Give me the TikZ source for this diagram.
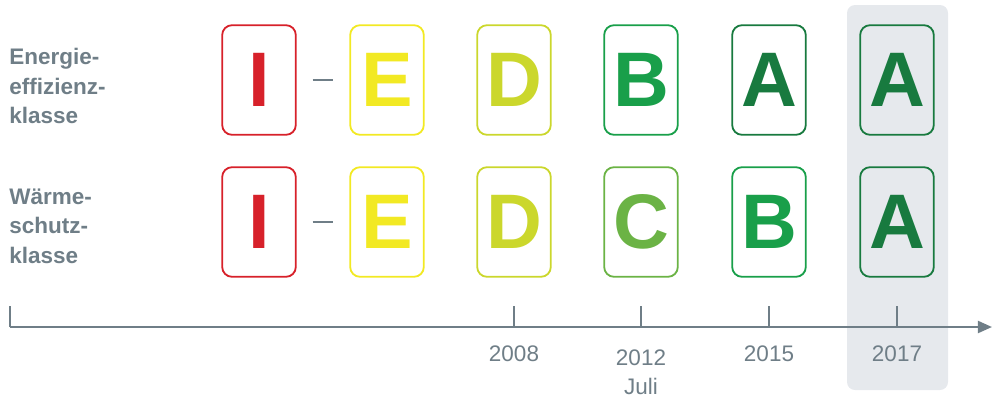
\documentclass[tikz,border=0pt]{standalone}
\usepackage{fontspec}
\setmainfont{Liberation Sans}
\usepackage{tikz}
\usetikzlibrary{shapes}
\usetikzlibrary{arrows.meta}
\usetikzlibrary{positioning}
\definecolor{textgrau}{HTML}{6F7E87}
\definecolor{hintergrund}{HTML}{E6E9ED}
\definecolor{rotI}{HTML}{D7212A}
\definecolor{gelbE}{HTML}{F2E923}
\definecolor{gelbD}{HTML}{CBD72C}
\definecolor{gruenC}{HTML}{6BB345}
\definecolor{gruenB}{HTML}{199F4A}
\definecolor{gruenA}{HTML}{187A3F}
\tikzstyle{klasse}=[
        rectangle,
        draw,
        rounded corners=7pt,
        line width=1.3pt,
        minimum width=1.84cm,
        minimum height=2.74cm,
        inner sep=0pt,
        font=\fontsize{55}{60}\selectfont\bfseries
]
\tikzstyle{titel}=[anchor=west,align=left,text=textgrau,inner sep=0pt,
font=\fontsize{16}{21}\selectfont\bfseries]
\tikzstyle{jahr}=[text=textgrau,inner sep=0pt,align=center,
font=\fontsize{16}{20.6}\selectfont]
\tikzstyle{strich}=[textgrau,line width=1.5pt,shorten >=0.4cm,shorten <=0.4cm]
\tikzstyle{achse}=[textgrau,line width=1.6pt]

\begin{document}
\begin{tikzpicture}[x=0.025cm,y=-0.025cm]
\useasboundingbox (0,0) rectangle (992,397);
\fill[hintergrund,rounded corners=0.2cm] (847,5) rectangle (948,390);
\node[titel] (ee) at (9,86) {Energie-\\effizienz-\\klasse};
\node[titel] (ws) at (9,226) {Wärme-\\schutz-\\klasse};
\node[klasse,color=rotI] (a1) at (259,80) {I};
\node[klasse,color=gelbE] (b1) at (387,80) {E};
\node[klasse,color=gelbD] (c1) at (514,80) {D};
\node[klasse,color=gruenB] (d1) at (641,80) {B};
\node[klasse,color=gruenA] (e1) at (769,80) {A};
\node[klasse,color=gruenA] (f1) at (897,80) {A};
\node[klasse,color=rotI] (a2) at (259,222) {I};
\node[klasse,color=gelbE] (b2) at (387,222) {E};
\node[klasse,color=gelbD] (c2) at (514,222) {D};
\node[klasse,color=gruenC] (d2) at (641,222) {C};
\node[klasse,color=gruenB] (e2) at (769,222) {B};
\node[klasse,color=gruenA] (f2) at (897,222) {A};
%Zeitachse
\coordinate (start) at (10,327);
\coordinate (ende) at (992,327);
\coordinate (t2008) at (514,327);
\coordinate (t2012) at (641,327);
\coordinate (t2015) at (769,327);
\coordinate (t2017) at (897,327);
\node[jahr] (j2008) at (514,354) {2008};
\node[jahr] (j2012) at (641,372) {2012\\Juli};
\node[jahr] (j2015) at (769,354) {2015};
\node[jahr] (j2017) at (897,354) {2017};
\draw[strich] (a1) -- (b1);
\draw[strich] (a2) -- (b2);
\draw[achse,-{Triangle[length=10pt,width=8.5pt]}] (start) -- (ende);
\draw[achse] (start) -- ++(0,-21);
\draw[achse] (t2008) -- ++(0,-21);
\draw[achse] (t2012) -- ++(0,-21);
\draw[achse] (t2015) -- ++(0,-21);
\draw[achse] (t2017) -- ++(0,-21);
\end{tikzpicture}
\end{document}
